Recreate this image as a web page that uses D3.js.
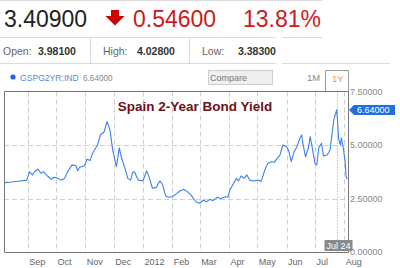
<!DOCTYPE html>
<html><head><meta charset="utf-8">
<script src="https://cdn.jsdelivr.net/npm/d3@7"></script>
<style>
html,body{margin:0;padding:0;background:#fff;}
svg{display:block;font-family:"Liberation Sans",Arial,sans-serif;}
</style></head>
<body><svg id="c" width="400" height="268"></svg>
<script>
const dates = ["2011-08-08","2011-08-15","2011-08-24","2011-08-31","2011-09-03","2011-09-06","2011-09-08","2011-09-12","2011-09-15","2011-09-18",
"2011-09-22","2011-09-26","2011-09-29","2011-10-03","2011-10-06","2011-10-10","2011-10-13","2011-10-18","2011-10-22","2011-10-24",
"2011-10-26","2011-10-31","2011-11-03","2011-11-06","2011-11-09","2011-11-14","2011-11-17","2011-11-21","2011-11-24","2011-11-27",
"2011-11-30","2011-12-04","2011-12-07","2011-12-09","2011-12-13","2011-12-16","2011-12-19","2011-12-21","2011-12-23","2011-12-27",
"2012-01-01","2012-01-05","2012-01-08","2012-01-11","2012-01-15","2012-01-19","2012-01-22","2012-01-25","2012-01-28","2012-02-01",
"2012-02-06","2012-02-09","2012-02-13","2012-02-17","2012-02-21","2012-02-26","2012-03-01","2012-03-05","2012-03-08","2012-03-12",
"2012-03-15","2012-03-20","2012-03-23","2012-03-28","2012-03-31","2012-04-02","2012-04-05","2012-04-09","2012-04-11","2012-04-14",
"2012-04-17","2012-04-20","2012-04-23","2012-04-27","2012-05-02","2012-05-05","2012-05-09","2012-05-12","2012-05-16","2012-05-19",
"2012-05-23","2012-05-25","2012-05-28","2012-06-01","2012-06-03","2012-06-06","2012-06-09","2012-06-12","2012-06-15","2012-06-17",
"2012-06-18","2012-06-21","2012-06-24","2012-06-26","2012-06-28","2012-07-01","2012-07-03","2012-07-05","2012-07-08","2012-07-10",
"2012-07-14","2012-07-17","2012-07-19","2012-07-21","2012-07-24","2012-07-25","2012-07-26","2012-07-28","2012-07-29","2012-07-31",
"2012-08-02","2012-08-03","2012-08-04"];
const yields = [3.24,3.27,3.32,3.36,3.75,3.60,3.74,3.88,3.68,3.75,
3.55,3.40,3.49,3.44,3.36,3.44,3.72,4.07,4.03,3.80,
3.96,4.03,4.33,4.27,4.64,5.00,5.47,5.62,6.09,5.73,
4.77,3.99,4.87,4.45,3.91,3.44,3.36,3.71,3.75,3.36,
3.33,3.79,3.44,2.98,3.02,3.33,3.13,2.62,2.56,2.58,
2.74,2.85,2.93,2.82,2.66,2.35,2.28,2.43,2.35,2.46,
2.40,2.56,2.49,2.58,2.56,2.90,3.13,3.44,3.32,3.55,
3.44,3.60,3.36,3.32,3.36,3.29,3.83,4.14,4.22,4.19,
4.43,4.53,5.00,4.92,4.77,4.22,4.69,4.92,5.31,5.47,
5.15,4.45,4.85,5.39,4.92,4.14,4.07,4.85,5.08,4.49,
4.53,4.77,5.47,6.17,6.64,6.09,5.31,5.00,5.34,4.85,
4.22,3.52,3.41];
const yTicks = [0, 2.5, 5, 7.5];
const monthTicks = ["2011-09-01","2011-10-01","2011-11-01","2011-12-01","2012-01-01","2012-02-01","2012-03-01","2012-04-01","2012-05-01","2012-06-01","2012-07-01","2012-08-01"];
const monthLabels = ["Sep","Oct","Nov","Dec","2012","Feb","Mar","Apr","May","Jun","Jul","Aug"];
const quote = {last:"3.40900", change:"0.54600", pct:"13.81%"};
const statLabels = ["Open:","High:","Low:"];
const statValues = ["3.98100","4.02800","3.38300"];
const seriesName = "GSPG2YR:IND", hoverValue = "6.64000", hoverDate = "2012-07-24", hoverLabel = "Jul 24";
const title = "Spain 2-Year Bond Yield";

const parse = d3.timeParse("%Y-%m-%d");
const data = dates.map((d,i)=>({date:parse(d), v:yields[i]}));
const svg = d3.select("#c");
const L=4, R=348, T=91.5, B=252;
const x = d3.scaleTime().domain([parse("2011-08-07"), parse("2012-08-05")]).range([L,R]);
const y = d3.scaleLinear().domain([0,7.5]).range([B,T]);

// header lines
const lines = [[0,0.5,322,0.5],[0,37.5,276,37.5],[282,37.5,322,37.5],[0,63.5,276,63.5],[282,63.5,390,63.5],[90.5,37,90.5,63],[189.5,37,189.5,63]];
svg.selectAll("line.hdr").data(lines).join("line").attr("class","hdr")
  .attr("x1",d=>d[0]).attr("y1",d=>d[1]).attr("x2",d=>d[2]).attr("y2",d=>d[3])
  .attr("stroke","#dcdcdc").attr("stroke-width",1);

svg.append("text").attr("x",4).attr("y",27).attr("font-size",23).attr("fill","#222").text(quote.last);
svg.append("path").attr("d","M111,10 H119 V16 H124.5 L115,25.5 L105.5,16 H111 Z").attr("fill","#cc0000");
svg.append("text").attr("x",133).attr("y",27).attr("font-size",23).attr("fill","#cc1a1a").text(quote.change);
svg.append("text").attr("x",243).attr("y",27).attr("font-size",23).attr("fill","#cc1a1a").text(quote.pct);

const sx = [3,103,202], vx=[38,137,238];
statLabels.forEach((s,i)=>{
  svg.append("text").attr("x",sx[i]).attr("y",55).attr("font-size",10.5).attr("fill","#666").text(s);
  svg.append("text").attr("x",vx[i]).attr("y",55).attr("font-size",10.5).attr("font-weight","bold").attr("fill","#333").text(statValues[i]);
});

// legend row
svg.append("circle").attr("cx",13).attr("cy",77).attr("r",2.6).attr("fill","#1a66ee");
svg.append("text").attr("x",20).attr("y",80.5).attr("font-size",8.6).attr("fill","#5a88e0").text(seriesName);
svg.append("text").attr("x",83).attr("y",80.5).attr("font-size",8.2).attr("fill","#888").text(hoverValue);
svg.append("rect").attr("x",208.5).attr("y",70.5).attr("width",64).attr("height",14).attr("fill","#efefef").attr("stroke","#cfcfcf");
svg.append("text").attr("x",210).attr("y",81).attr("font-size",9).attr("fill","#777").text("Compare");
svg.append("text").attr("x",307).attr("y",81).attr("font-size",9.5).attr("fill","#888").text("1M");
svg.append("path").attr("d","M325.5,91 V70.5 H348.5 V91").attr("fill","#fff").attr("stroke","#999");
svg.append("text").attr("x",332).attr("y",82).attr("font-size",9.5).attr("fill","#f5955a").text("1Y");

// grid
const g = svg.append("g");
g.selectAll("line.vg").data(monthTicks.map(parse)).join("line").attr("class","vg")
  .attr("x1",d=>Math.round(x(d))+0.5).attr("x2",d=>Math.round(x(d))+0.5).attr("y1",T).attr("y2",B)
  .attr("stroke","#d0d0d0").attr("stroke-dasharray","5,3");
g.selectAll("line.hg").data(yTicks.filter(t=>t>0&&t<7.5)).join("line").attr("class","hg")
  .attr("x1",L).attr("x2",R).attr("y1",d=>Math.round(y(d))+0.5).attr("y2",d=>Math.round(y(d))+0.5)
  .attr("stroke","#d0d0d0").attr("stroke-dasharray","5,3");

// hover line
const hx = Math.round(x(parse(hoverDate)))+0.5;
svg.append("line").attr("x1",hx).attr("x2",hx).attr("y1",T).attr("y2",B).attr("stroke","#999").attr("stroke-dasharray","1,2");

// title
svg.append("text").attr("x",195).attr("y",111).attr("text-anchor","middle").attr("font-size",13.5).attr("font-weight","bold").attr("fill","#6e1018").text(title);

// series
svg.append("path").datum(data).attr("fill","none").attr("stroke","#3a80f0").attr("stroke-width",1.1)
  .attr("stroke-linejoin","round")
  .attr("d",d3.line().x(d=>x(d.date)).y(d=>y(d.v)));

// frame
svg.append("path").attr("d",`M${L+0.5},${B} V${T} H${R+0.5} V${B+0.5} H${L+0.5}`).attr("fill","none").attr("stroke","#777");

// axes labels
const yax = svg.append("g").attr("transform",`translate(${R},0)`)
  .call(d3.axisRight(y).tickValues(yTicks).tickFormat(d3.format(".5f")).tickSize(0).tickPadding(2));
yax.select(".domain").remove();
yax.selectAll("text").attr("font-size",9).attr("fill","#888").attr("font-family","Liberation Sans, Arial, sans-serif");

const xax = svg.append("g").attr("transform",`translate(0,${B})`)
  .call(d3.axisBottom(x).tickValues(monthTicks.map(parse)).tickFormat((d,i)=>monthLabels[i]).tickSize(0).tickPadding(7));
xax.select(".domain").remove();
xax.selectAll("text").attr("font-size",9).attr("fill","#666").attr("text-anchor","start").attr("dx",1)
  .attr("font-family","Liberation Sans, Arial, sans-serif");

// hover value tag
const ty = y(+hoverValue);
svg.append("path").attr("d",`M349,${ty} L354,${ty-5} H395 V${ty+5} H354 Z`).attr("fill","#1f6fe5");
svg.append("text").attr("x",357).attr("y",ty+3.3).attr("font-size",9).attr("fill","#fff").text(hoverValue);

// hover date tag
svg.append("rect").attr("x",hx-13).attr("y",240).attr("width",28).attr("height",11).attr("fill","#8a8a8a");
svg.append("text").attr("x",hx+1).attr("y",249).attr("text-anchor","middle").attr("font-size",9).attr("fill","#fff").text(hoverLabel);
</script></body></html>
